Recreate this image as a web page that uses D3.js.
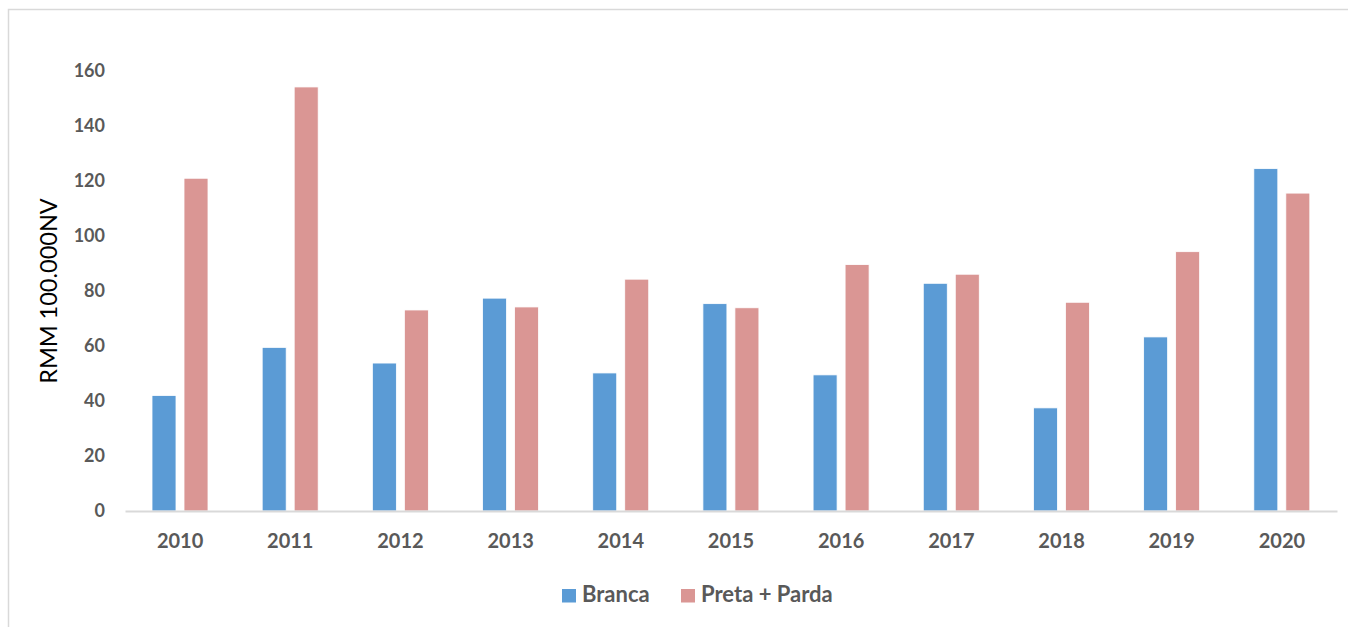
<!DOCTYPE html>
<html><head><meta charset="utf-8">
<script src="https://cdn.jsdelivr.net/npm/d3@7"></script>
<style>body{margin:0;background:#fff;}svg{display:block;}</style>
</head><body>
<script>
const years = ["2010","2011","2012","2013","2014","2015","2016","2017","2018","2019","2020"];
const branca = [42, 59.5, 53.8, 77.4, 50.2, 75.4, 49.5, 82.8, 37.5, 63.3, 124.5];
const pretaParda = [121, 154.2, 73.1, 74.2, 84.3, 73.9, 89.6, 86.1, 75.9, 94.3, 115.6];
const seriesNames = ["Branca", "Preta + Parda"];
const colors = ["#5B9BD5", "#DA9694"];
const yTicks = [0,20,40,60,80,100,120,140,160];

const W = 1348, H = 627;
const svg = d3.select("body").append("svg").attr("width", W).attr("height", H);
svg.append("rect").attr("x",8.5).attr("y",9.5).attr("width",W).attr("height",H).attr("fill","none").attr("stroke","#d9d9d9").attr("stroke-width",1.5);

const x0 = d3.scaleBand().domain(years).range([125, 1337]).paddingInner(0).paddingOuter(0);
const y = d3.scaleLinear().domain([0,160]).range([511, 71]);
const x1 = d3.scaleBand().domain(seriesNames).range([27, 83]).paddingInner(0.25);

const fontF = "Lato, 'Open Sans', sans-serif";
const data = years.map((yr,i)=>({yr, vals:[branca[i], pretaParda[i]]}));

const g = svg.append("g");
g.selectAll("g.cat").data(data).enter().append("g")
  .attr("transform", d=>`translate(${x0(d.yr)},0)`)
  .selectAll("rect").data(d=>d.vals.map((v,j)=>({v,j}))).enter().append("rect")
  .attr("x", d=>x1(seriesNames[d.j]))
  .attr("width", x1.bandwidth())
  .attr("y", d=>y(d.v))
  .attr("height", d=>y(0)-y(d.v))
  .attr("fill", d=>colors[d.j])
  .attr("stroke", "#fff").attr("stroke-width", 0.8);

// x axis
const xAxis = d3.axisBottom(x0).tickSize(0).tickPadding(23);
const xg = svg.append("g").attr("transform","translate(0,511)").call(xAxis);
xg.select(".domain").attr("stroke","#d9d9d9").attr("stroke-width",2);
xg.selectAll("text").attr("font-family",fontF).attr("font-weight","bold").attr("font-size","20px").attr("fill","#595959");

// y axis
const yAxis = d3.axisLeft(y).tickValues(yTicks).tickSize(0).tickPadding(0);
const yg = svg.append("g").attr("transform","translate(105,0)").call(yAxis);
yg.select(".domain").remove();
yg.selectAll("text").attr("font-family",fontF).attr("font-weight","bold").attr("font-size","18px").attr("fill","#595959");

svg.append("text").attr("transform","translate(57,291) rotate(-90)").attr("text-anchor","middle")
  .attr("font-family",fontF).attr("font-size","23.5px").attr("fill","#000").text("RMM 100.000NV");

// legend
const legendX = [562, 681];
const lg = svg.append("g");
seriesNames.forEach((n,i)=>{
  lg.append("rect").attr("x",legendX[i]).attr("y",589).attr("width",14).attr("height",13.5).attr("fill",colors[i]);
  lg.append("text").attr("x",legendX[i]+20).attr("y",602).attr("font-family",fontF).attr("font-weight","bold")
    .attr("font-size","22px").attr("fill","#595959").text(n);
});
</script>
</body></html>
